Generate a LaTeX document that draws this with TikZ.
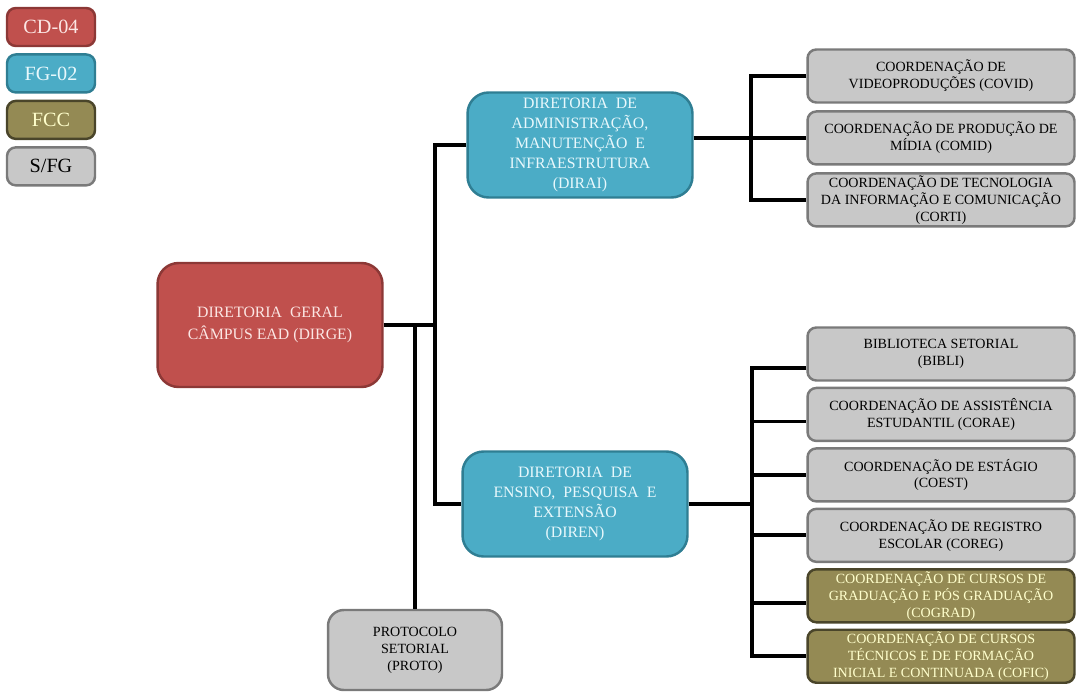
\documentclass[tikz,border=0pt]{standalone}
\usepackage{fontspec}
\setmainfont{Liberation Serif}
\usetikzlibrary{positioning}

\definecolor{cdfill}{HTML}{C0504D}
\definecolor{cddraw}{HTML}{8C3836}
\definecolor{cdtext}{HTML}{FCE6E4}
\definecolor{fgfill}{HTML}{4BACC6}
\definecolor{fgdraw}{HTML}{2F7E93}
\definecolor{fgtext}{HTML}{E8F8FC}
\definecolor{fccfill}{HTML}{948A54}
\definecolor{fccdraw}{HTML}{4A452A}
\definecolor{fcctext}{HTML}{FFFFCC}
\definecolor{sfgfill}{HTML}{C8C8C8}
\definecolor{sfgdraw}{HTML}{7A7A7A}

\begin{document}
\begin{tikzpicture}[
  x=0.02cm, y=-0.02cm,
  every node/.style={align=center, inner sep=0pt},
  unit/.style  = {rounded corners=5pt, line width=1.4pt},
  cd/.style    = {unit, fill=cdfill, draw=cddraw, text=cdtext},
  fg/.style    = {unit, fill=fgfill, draw=fgdraw, text=fgtext},
  fcc/.style   = {unit, fill=fccfill, draw=fccdraw, text=fcctext},
  sfg/.style   = {unit, fill=sfgfill, draw=sfgdraw, text=black},
  key/.style   = {minimum width=1.76cm, minimum height=0.76cm, font=\fontsize{11.5}{13}\selectfont},
  head/.style  = {rounded corners=12pt, minimum width=4.5cm, font=\fontsize{9}{11.5}\selectfont},
  leaf/.style  = {minimum width=5.34cm, minimum height=1.06cm, font=\fontsize{8}{9.6}\selectfont},
  link/.style  = {line width=2.2pt, black},
]
  \useasboundingbox (0,0) rectangle (1078,693);

  % legenda
  \node[cd, key]                      (kcd)  at (51,27) {CD-04};
  \node[fg, key, below=0.12cm of kcd]  (kfg)  {FG-02};
  \node[fcc, key, below=0.12cm of kfg] (kfcc) {FCC};
  \node[sfg, key, below=0.12cm of kfcc] (ksfg) {S/FG};

  % diretorias
  \node[cd, head, minimum height=2.48cm, font=\fontsize{9}{12.5}\selectfont]
        (dirge) at (270,325) {DIRETORIA\ \ GERAL\\CÂMPUS EAD (DIRGE)};
  \node[fg, head, minimum height=2.1cm] (dirai) at (580,145)
        {DIRETORIA\ \ DE\\ADMINISTRAÇÃO,\\MANUTENÇÃO\ \ E\\INFRAESTRUTURA\\(DIRAI)};
  \node[fg, head, minimum height=2.1cm] (diren) at (575,504)
        {DIRETORIA\ \ DE\\ENSINO,\ \ PESQUISA\ \ E\\EXTENSÃO\\(DIREN)};
  \node[sfg, rounded corners=9pt, minimum width=3.48cm, minimum height=1.6cm,
        font=\fontsize{8}{9.6}\selectfont] (proto) at (415,650)
        {PROTOCOLO\\SETORIAL\\(PROTO)};

  % coordenacoes DIRAI
  \node[sfg, leaf]                      (covid) at (941,76) {COORDENAÇÃO DE\\VIDEOPRODUÇÕES (COVID)};
  \node[sfg, leaf, below=0.13cm of covid] (comid) {COORDENAÇÃO DE PRODUÇÃO DE\\MÍDIA (COMID)};
  \node[sfg, leaf, below=0.13cm of comid] (corti) {COORDENAÇÃO DE TECNOLOGIA\\DA INFORMAÇÃO E COMUNICAÇÃO\\(CORTI)};

  % coordenacoes DIREN
  \node[sfg, leaf]                      (bibli)  at (941,354) {BIBLIOTECA SETORIAL\\(BIBLI)};
  \node[sfg, leaf, below=0.1cm of bibli]  (corae)  {COORDENAÇÃO DE ASSISTÊNCIA\\ESTUDANTIL (CORAE)};
  \node[sfg, leaf, below=0.1cm of corae]  (coest)  {COORDENAÇÃO DE ESTÁGIO\\(COEST)};
  \node[sfg, leaf, below=0.1cm of coest]  (coreg)  {COORDENAÇÃO DE REGISTRO\\ESCOLAR (COREG)};
  \node[fcc, leaf, below=0.1cm of coreg]  (cograd) {COORDENAÇÃO DE CURSOS DE\\GRADUAÇÃO E PÓS GRADUAÇÃO\\(COGRAD)};
  \node[fcc, leaf, below=0.1cm of cograd] (cofic)  {COORDENAÇÃO DE CURSOS\\TÉCNICOS E DE FORMAÇÃO\\INICIAL E CONTINUADA (COFIC)};

  % ligacoes
  \coordinate (busA) at (435,325);
  \draw[link] (dirge.east) -- (busA);
  \draw[link] (dirai.west) -| (busA) |- (diren.west);
  \draw[link] (proto.north |- dirge.east) -- (proto.north);

  \coordinate (busB) at (751,0);
  \draw[link] (dirai.east |- comid.west) -- (comid.west);
  \draw[link] (covid.west) -| (busB |- covid.west) |- (corti.west);

  \coordinate (busC) at (752,0);
  \coordinate (pbibli)  at ([yshift=-0.28cm]bibli.west);
  \coordinate (pcorae)  at ([yshift=-0.14cm]corae.west);
  \coordinate (pcograd) at ([yshift=-0.14cm]cograd.west);
  \draw[link] (diren.east) -- (diren.east -| busC);
  \draw[link] (pbibli) -| (busC |- pbibli) |- (cofic.west);
  \foreach \n in {pcorae, coest.west, coreg.west, pcograd}
    \draw[link] (busC |- \n) -- (\n);
\end{tikzpicture}
\end{document}
